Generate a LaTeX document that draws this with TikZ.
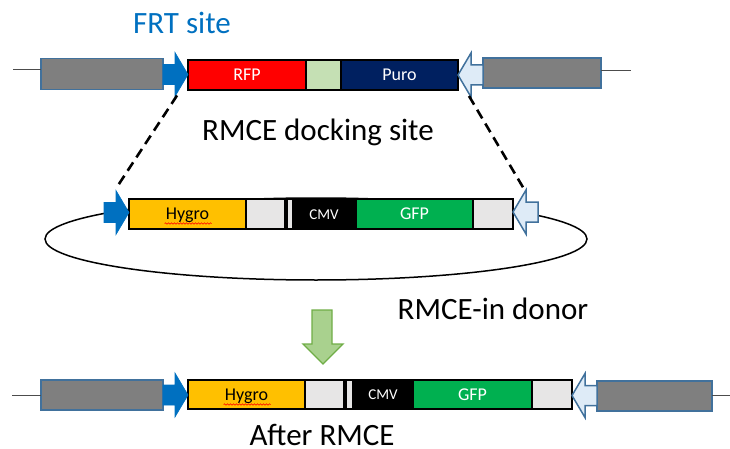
\documentclass[tikz,border=0pt]{standalone}
\usepackage{fontspec}
\setmainfont{Carlito}
\usetikzlibrary{decorations.pathmorphing,shapes.geometric}

\definecolor{flankgray}{HTML}{7F7F7F}
\definecolor{flankedge}{HTML}{41719C}
\definecolor{frtblue}{HTML}{0070C0}
\definecolor{frtlight}{HTML}{DEEBF7}
\definecolor{rfpred}{HTML}{FF0000}
\definecolor{puroblue}{HTML}{002060}
\definecolor{spacergreen}{HTML}{C5E0B4}
\definecolor{hygroyellow}{HTML}{FFC000}
\definecolor{fillergray}{HTML}{E7E6E6}
\definecolor{gfpgreen}{HTML}{00B050}
\definecolor{stepfill}{HTML}{A9D18E}
\definecolor{stepedge}{HTML}{70AD47}

\tikzset{
  chrom/.style={draw=black!70, line width=1pt},
  flank/.style={draw=flankedge, fill=flankgray, line width=1.5pt,
    inner sep=0pt, outer sep=0pt, anchor=west},
  gene/.style={draw=black, line width=1.6pt, inner sep=0pt, outer sep=0pt,
    anchor=west, text=white, font=\fontsize{18}{20}\selectfont,
    text height=11.4pt, text depth=0pt},
  promoter/.style={gene, font=\fontsize{15}{17}\selectfont, text height=9.5pt},
  strip/.style={fill=fillergray, draw=none, inner sep=0pt, outer sep=0pt, anchor=west},
  bigtext/.style={anchor=base, inner sep=0pt, font=\fontsize{31}{36}\selectfont},
  squig/.style={draw=red, line width=0.6pt, decorate,
    decoration={snake, amplitude=0.7pt, segment length=3pt}},
  splice/.style={draw=black, line width=2.6pt, dash pattern=on 10pt off 6pt},
  % FRT site pointing right, tip at the origin
  frtright/.pic={
    \path[fill=frtblue, draw=frtblue, line width=0.6pt]
      (0,0) -- (-13,-22) -- (-13,-10) -- (-25,-10) -- (-25,10)
      -- (-13,10) -- (-13,22) -- cycle;
    \coordinate (-low) at (-11,21);
    \coordinate (-up) at (-13,-24);
  },
  % FRT site pointing left, tip at the origin
  frtleft/.pic={
    \path[fill=frtlight, draw=flankedge, line width=1.5pt]
      (0,0) -- (13,-22) -- (13,-10) -- (25,-10) -- (25,10)
      -- (13,10) -- (13,22) -- cycle;
    \coordinate (-low) at (11,21);
    \coordinate (-up) at (11,-23);
  },
}

\begin{document}
\begin{tikzpicture}[x=1pt, y=-1pt]
\useasboundingbox (0,0) rectangle (730,449);

% ---------- labels ----------
\node[bigtext, text=frtblue] (frt) at (182,34) {FRT site};
\node[bigtext] (dock) at (318,141) {RMCE docking site};
\node[bigtext] (donor) at (493,319) {RMCE-in donor};
\node[bigtext] (after) at (322,445) {After RMCE};

% ---------- donor plasmid backbone ----------
\node[draw=black, line width=1.5pt, ellipse, inner sep=0pt,
  minimum width=542pt, minimum height=82pt] (plasmid) at (316,239) {};

% ---------- docking site (top row) ----------
\coordinate (tlend) at (13,70);
\coordinate (trend) at (631,71);
\node[flank, minimum width=122pt, minimum height=31pt] (tlg) at (41,74) {};
\node[flank, minimum width=118pt, minimum height=30pt] (trg) at (483,73) {};
\draw[chrom] (tlend) -- (tlend -| tlg.west);
\draw[chrom] (trg.east |- trend) -- (trend);
\node[gene, fill=rfpred, minimum width=118pt, minimum height=30pt] (rfp) at (188,75) {RFP};
\node[gene, fill=spacergreen, minimum width=35pt, minimum height=30pt] (spacer) at (306,75) {};
\node[gene, fill=puroblue, minimum width=117pt, minimum height=30pt] (puro) at (341,75) {Puro};
\pic (frtA) at (188,74.5) {frtright};
\pic (frtB) at (458,75) {frtleft};

% ---------- donor cassette (middle row) ----------
\node[gene, fill=hygroyellow, text=black, minimum width=117pt, minimum height=30pt] (hygA) at (129,214) {Hygro};
\node[gene, fill=fillergray, minimum width=39pt, minimum height=30pt] (fillA) at (246,214) {};
\node[promoter, fill=black, minimum width=71pt, minimum height=30pt] (cmvA) at (285,214) {};
\node[strip, minimum width=4pt, minimum height=28pt] (stripA) at (288,214) {};
\node[text=white, font=\fontsize{15}{17}\selectfont, inner sep=0pt] (cmvAt) at (324,214.5) {CMV};
\node[gene, fill=gfpgreen, minimum width=117pt, minimum height=30pt] (gfpA) at (356,214) {GFP};
\node[gene, fill=fillergray, minimum width=40pt, minimum height=30pt] (tailA) at (473,214) {};
\pic (frtC) at (129,212.5) {frtright};
\pic (frtD) at (513,212) {frtleft};
\draw[squig] ([xshift=-23pt,yshift=-9.5pt]hygA.center) -- ++(47,0);

% ---------- splicing of the cassette into the docking site ----------
\draw[splice] (frtA-low) -- (frtC-up);
\draw[splice] (frtB-low) -- (frtD-up);

% ---------- exchange step arrow ----------
\path[fill=stepfill, draw=stepedge, line width=1.3pt]
  (312,310) -- (332,310) -- (332,344) -- (343,344) -- (323,364)
  -- (303,344) -- (312,344) -- cycle;

% ---------- product (bottom row) ----------
\coordinate (blend) at (12,395);
\coordinate (brend) at (730,395);
\node[flank, minimum width=122pt, minimum height=30pt] (blg) at (41,395) {};
\node[flank, minimum width=115pt, minimum height=30pt] (brg) at (597,396) {};
\draw[chrom] (blend) -- (blend -| blg.west);
\draw[chrom] (brg.east |- brend) -- (brend);
\node[gene, fill=hygroyellow, text=black, minimum width=117pt, minimum height=29pt] (hygB) at (188,394.5) {Hygro};
\node[gene, fill=fillergray, minimum width=39pt, minimum height=29pt] (fillB) at (305,394.5) {};
\node[promoter, fill=black, minimum width=69pt, minimum height=29pt] (cmvB) at (344,394.5) {};
\node[strip, minimum width=5pt, minimum height=27pt] (stripB) at (347,394.5) {};
\node[text=white, font=\fontsize{15}{17}\selectfont, inner sep=0pt] (cmvBt) at (383,395) {CMV};
\node[gene, fill=gfpgreen, minimum width=119pt, minimum height=29pt] (gfpB) at (413,394.5) {GFP};
\node[gene, fill=fillergray, minimum width=40pt, minimum height=29pt] (tailB) at (532,394.5) {};
\pic (frtE) at (188,395) {frtright};
\pic (frtF) at (572,395.5) {frtleft};
\draw[squig] ([xshift=-23pt,yshift=-10pt]hygB.center) -- ++(47,0);
\end{tikzpicture}
\end{document}
